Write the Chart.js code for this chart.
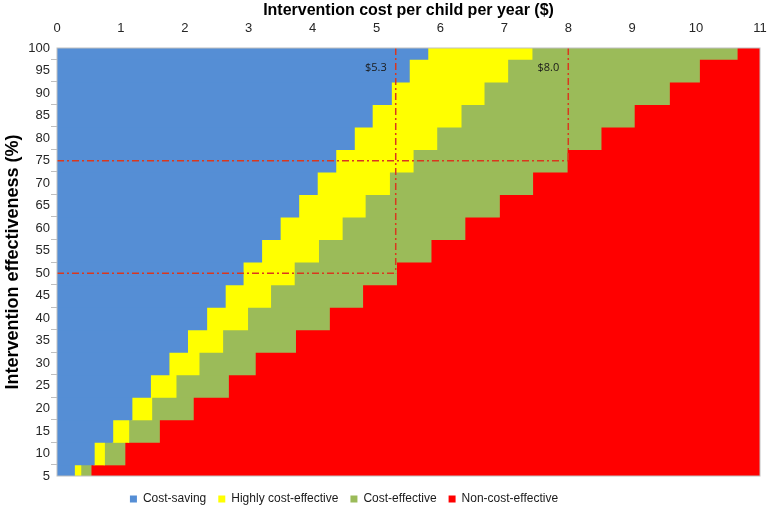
<!DOCTYPE html>
<html>
<head>
<meta charset="utf-8">
<script src="https://cdn.jsdelivr.net/npm/chart.js@4.4.1/dist/chart.umd.min.js"></script>
<style>
  html, body { margin: 0; padding: 0; background: #fff; }
  #wrap { width: 768px; height: 514px; }
</style>
</head>
<body>
<div id="wrap"><canvas id="chart"></canvas></div>
<script>
// effectiveness levels (%) and the cost ($) at which each zone ends
const effectiveness = [5, 10, 15, 20, 25, 30, 35, 40, 45, 50, 55, 60, 65, 70, 75, 80, 85, 90, 95, 100];
const costSavingUpTo = [0.27, 0.58, 0.87, 1.17, 1.46, 1.75, 2.04, 2.34, 2.63, 2.91, 3.20, 3.49, 3.78, 4.07, 4.36, 4.65, 4.93, 5.23, 5.51, 5.80];
const highlyCEUpTo = [0.37, 0.74, 1.12, 1.48, 1.86, 2.22, 2.59, 2.98, 3.34, 3.71, 4.09, 4.46, 4.82, 5.20, 5.57, 5.94, 6.32, 6.68, 7.05, 7.43];
const costEffectiveUpTo = [0.53, 1.06, 1.60, 2.13, 2.68, 3.10, 3.73, 4.26, 4.78, 5.31, 5.85, 6.38, 6.92, 7.44, 7.98, 8.51, 9.03, 9.58, 10.05, 10.64];
const maxCost = 11;

const zoneNames = ['Cost-saving', 'Highly cost-effective', 'Cost-effective', 'Non-cost-effective'];
const zoneColors = ['#558ED5', '#FFFF00', '#9BBB59', '#FF0000'];

// reference thresholds marked with dash-dot lines
const refCosts = [5.3, 8.0];
const refEffects = [50, 75];
const refLabels = ['$5.3', '$8.0'];

Chart.defaults.font.family = "'Liberation Sans', Arial, sans-serif";
Chart.defaults.color = '#262626';

// floating bars [from, to] for each zone
const zoneBounds = [costSavingUpTo, highlyCEUpTo, costEffectiveUpTo, effectiveness.map(() => maxCost)];
const datasets = zoneNames.map((name, z) => ({
  label: name,
  backgroundColor: zoneColors[z],
  borderWidth: 0,
  inflateAmount: 0.6,
  grouped: false,
  clip: 0,
  barPercentage: 1,
  categoryPercentage: 1,
  data: effectiveness.map((e, i) => ({
    y: e,
    x: [z === 0 ? 0 : zoneBounds[z - 1][i], zoneBounds[z][i]],
  })),
}));

const refLines = {
  id: 'refLines',
  afterDatasetsDraw(chart) {
    const { ctx, chartArea, scales: { x, y } } = chart;
    ctx.save();
    ctx.strokeStyle = '#D9381E';
    ctx.lineWidth = 1.5;
    ctx.setLineDash([7, 3, 2, 3]);
    refCosts.forEach((c, i) => {
      const px = x.getPixelForValue(c);
      const py = y.getPixelForValue(refEffects[i]);
      ctx.beginPath();
      ctx.moveTo(px, chartArea.top);
      ctx.lineTo(px, py);
      ctx.moveTo(x.getPixelForValue(0), py);
      ctx.lineTo(px, py);
      ctx.stroke();
    });
    ctx.setLineDash([]);
    ctx.fillStyle = '#1a1a1a';
    ctx.font = "11px 'Open Sans', sans-serif";
    ctx.textAlign = 'right';
    ctx.textBaseline = 'middle';
    refLabels.forEach((t, i) => {
      ctx.fillText(t, x.getPixelForValue(refCosts[i]) - 9, chartArea.top + 20);
    });
    ctx.strokeStyle = '#BFBFBF';
    ctx.lineWidth = 1;
    ctx.strokeRect(chartArea.left, chartArea.top, chartArea.right - chartArea.left, chartArea.bottom - chartArea.top);
    ctx.restore();
  },
  afterLayout(chart) {
    // the original legend sits left of centre and a little lower
    chart.legend.left -= 40;
    chart.legend.right -= 40;
    chart.legend.top += 5;
    chart.legend.bottom += 5;
  },
};

new Chart(document.getElementById('chart'), { // eslint-disable-line no-new
  type: 'bar',
  data: { datasets },
  plugins: [refLines],
  options: {
    responsive: true,
    maintainAspectRatio: false,
    animation: false,
    indexAxis: 'y',
    layout: { padding: { left: 0, right: 0, top: 0, bottom: 4 } },
    plugins: {
      tooltip: { enabled: false },
      legend: {
        position: 'bottom',
        labels: {
          boxWidth: 7,
          boxHeight: 7,
          padding: 12,
          font: { size: 12 },
          color: '#1a1a1a',
        },
      },
    },
    scales: {
      x: {
        type: 'linear',
        position: 'top',
        min: 0,
        max: maxCost,
        ticks: { stepSize: 1, padding: 12, font: { size: 13 } },
        grid: { display: false, drawTicks: false },
        border: { display: false },
        title: {
          display: true,
          text: 'Intervention cost per child per year ($)',
          font: { size: 16, weight: 'bold' },
          color: '#000',
          padding: { top: 1, bottom: 0 },
        },
        afterFit(scale) {
          scale.height = 48;
          scale.paddingRight = 8;
        },
      },
      y: {
        type: 'linear',
        offset: false,
        min: 5,
        max: 100,
        ticks: { stepSize: 5, padding: 1, font: { size: 13 } },
        grid: { drawOnChartArea: false, tickLength: 6, color: '#BFBFBF' },
        border: { display: false },
        title: {
          display: true,
          text: 'Intervention effectiveness (%)',
          font: { size: 18, weight: 'bold' },
          color: '#000',
          padding: { top: 2, bottom: 0 },
        },
        afterFit(scale) { scale.width = 57; },
      },
    },
  },
});
</script>
</body>
</html>
